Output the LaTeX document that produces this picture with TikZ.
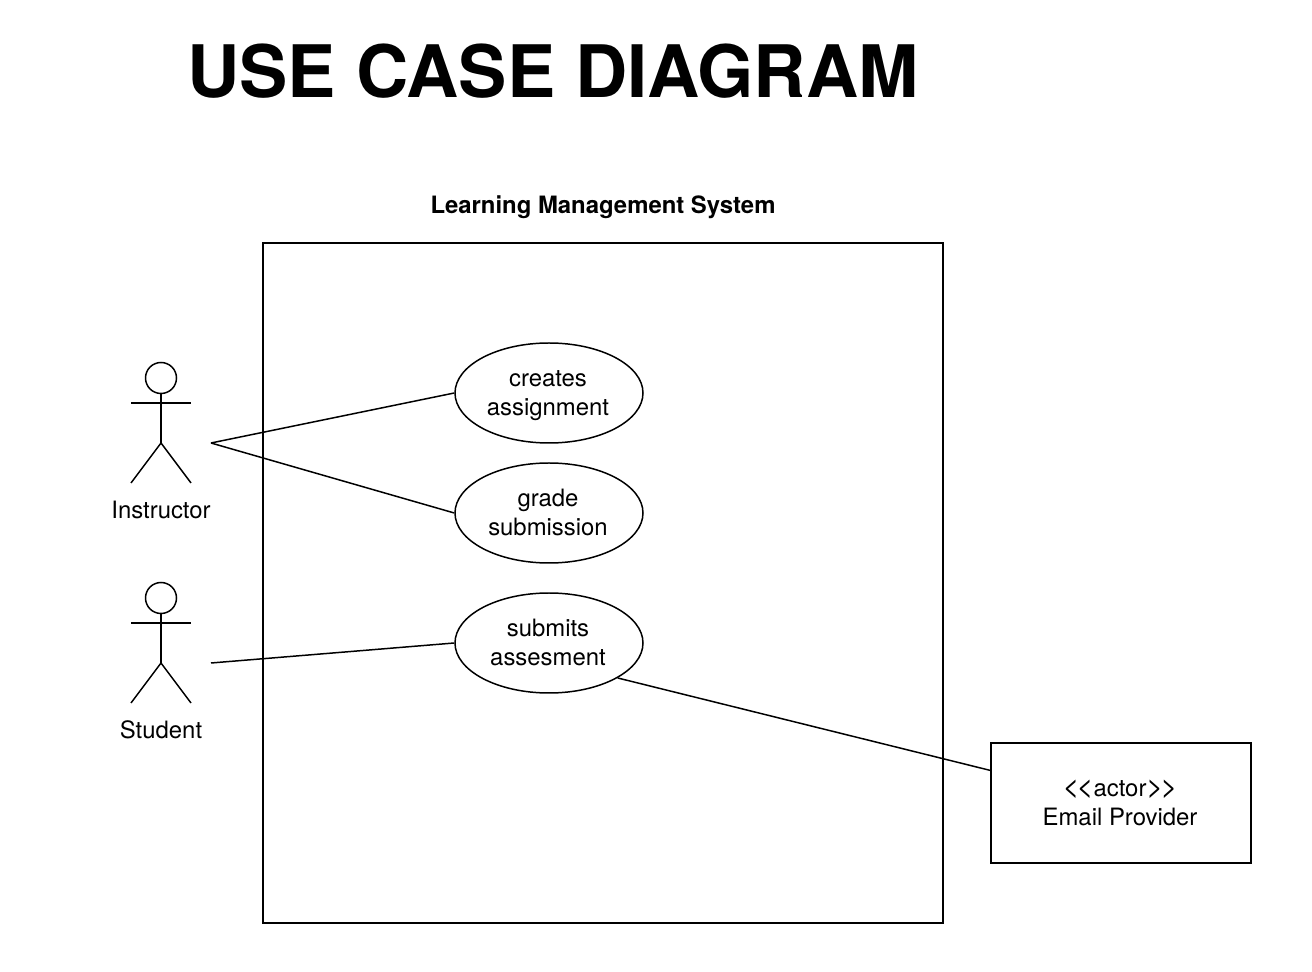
\documentclass[tikz,border=0pt]{standalone}
\usepackage{fontspec}
\setmainfont{TeX Gyre Heros}
\usetikzlibrary{shapes.geometric,positioning}
\tikzset{
  usecase/.style={draw,ellipse,line width=0.85pt,minimum width=188*0.02cm,minimum height=100*0.02cm,inner sep=0pt,align=center,font=\fontsize{13.6}{16.4}\selectfont},
  actorbox/.style={draw,line width=0.85pt,minimum width=260*0.02cm,minimum height=120*0.02cm,inner sep=0pt,align=center,font=\fontsize{13.6}{16.4}\selectfont},
  actorname/.style={inner sep=0pt,font=\fontsize{13.6}{16.4}\selectfont},
  link/.style={line width=0.85pt},
}
% stick figure, head centre at (#1,#2)
\newcommand{\stickman}[2]{
\draw[link] (#1,#2) circle (15.5);
\draw[link] (#1,#2+15.5) -- (#1,#2+65);
\draw[link] (#1-30,#2+25) -- (#1+30,#2+25);
\draw[link] (#1-30,#2+105) -- (#1,#2+65) -- (#1+30,#2+105);
}
% two lines of text, set a little low and to the left
\newcommand{\twolines}[2]{\rule{0pt}{13.75pt}#1\kern1.13pt\\\strut #2\kern1.13pt}
\newcommand{\angles}[1]{{\fontsize{16.5}{16.4}\selectfont#1\kern-1.6pt#1}}
\begin{document}
\begin{tikzpicture}[x=0.02cm,y=-0.02cm]
\useasboundingbox (0,0) rectangle (1312,972);
\node[inner sep=0pt,font=\fontsize{41.2}{50}\selectfont\bfseries] (title) at (553,71) {USE CASE DIAGRAM};
\node[inner sep=0pt,font=\fontsize{13.6}{16}\selectfont\bfseries] (sysname) at (603,207) {Learning Management System};
\node[draw,line width=0.85pt,minimum width=680*0.02cm,minimum height=680*0.02cm,inner sep=0pt] (system) at (603,583) {};
%
\stickman{161}{378}
\stickman{161}{598}
\node[actorname] (instructor) at (161,510) {Instructor};
\node[actorname] (student) at (161,730) {Student};
\coordinate (instructorend) at (211,443);
\coordinate (studentend) at (211,663);
%
\node[usecase] (creates) at (549,393) {\twolines{creates}{assignment}};
\node[usecase] (grade) at (549,513) {\twolines{grade}{submission}};
\node[usecase] (submits) at (549,643) {\twolines{submits}{assesment}};
\node[actorbox] (email) at (1121,803) {\twolines{\angles{<}actor\angles{>}}{Email Provider}};
%
\draw[link] (instructorend) -- (creates.west);
\draw[link] (instructorend) -- (grade.west);
\draw[link] (studentend) -- (submits.west);
\draw[link] (submits.-27.9) -- (email.166.2);
\end{tikzpicture}
\end{document}
